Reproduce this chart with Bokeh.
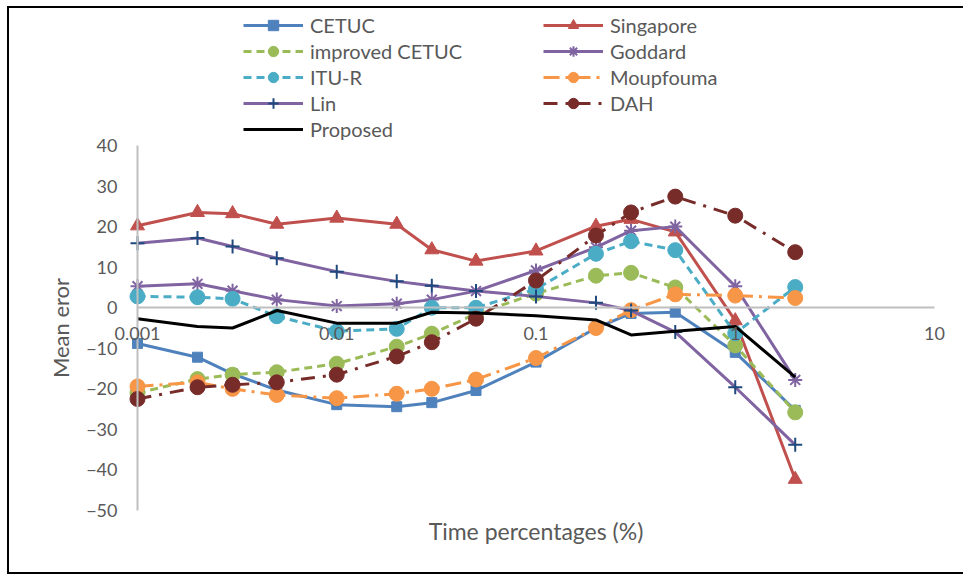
from bokeh.plotting import figure
from bokeh.models import LogAxis, FixedTicker, Range1d, Legend, LegendItem
from bokeh.embed import file_html
from bokeh.resources import INLINE

# ---------------- data ----------------
time_pct = [0.001, 0.002, 0.003, 0.005, 0.01, 0.02, 0.03, 0.05, 0.1, 0.2, 0.3, 0.5, 1, 2]
cetuc = [-8.8, -12.2, -16.3, -20.3, -23.9, -24.4, -23.4, -20.4, -13.4, -5.0, -1.4, -1.1, -11.0, -25.3]
singapore = [20.2, 23.5, 23.2, 20.6, 22.1, 20.6, 14.3, 11.5, 14.0, 20.1, 21.8, 18.7, -3.2, -42.3]
improved_cetuc = [-21.0, -17.6, -16.5, -15.9, -13.8, -9.6, -6.4, -1.5, 3.5, 7.9, 8.6, 5.0, -9.3, -25.8]
goddard = [5.3, 5.9, 4.2, 2.0, 0.4, 1.0, 2.0, 4.1, 9.2, 14.9, 19.0, 20.0, 5.3, -17.8]
itu_r = [2.8, 2.6, 2.2, -2.1, -5.8, -5.2, 0.0, 0.0, 4.6, 13.3, 16.4, 14.2, -6.3, 5.1]
moupfouma = [-19.4, -18.4, -20.0, -21.5, -22.3, -21.2, -20.0, -17.7, -12.4, -5.0, -0.6, 3.3, 3.0, 2.4]
lin = [15.9, 17.2, 15.1, 12.2, 8.9, 6.5, 5.4, 4.1, 2.8, 1.2, -0.7, -6.0, -19.6, -33.8]
dah = [-22.5, -19.6, -19.0, -18.4, -16.5, -12.0, -8.5, -2.7, 6.7, 17.8, 23.5, 27.4, 22.7, 13.7]
proposed = [-2.7, -4.6, -5.0, -0.7, -3.8, -3.8, -1.1, -1.3, -2.0, -3.0, -6.7, -5.8, -4.6, -17.1]

x_ticks = [0.001, 0.01, 0.1, 1, 10]
x_tick_labels = ["0.001", "0.01", "0.1", "1", "10"]
x_axis_min, x_axis_max = 0.001, 10
y_ticks = [-50, -40, -30, -20, -10, 0, 10, 20, 30, 40]
y_axis_min, y_axis_max = -50, 40

series_names = ["CETUC", "Singapore", "improved CETUC", "Goddard", "ITU-R",
                "Moupfouma", "Lin", "DAH", "Proposed"]
series_values = [cetuc, singapore, improved_cetuc, goddard, itu_r,
                 moupfouma, lin, dah, proposed]

# ---------------- styles ----------------
styles = {
    "CETUC": dict(color="#4F81BD", dash="solid", marker="square", msize=10, mcolor="#4F81BD"),
    "Singapore": dict(color="#C0504D", dash="solid", marker="triangle", msize=14, mcolor="#C0504D"),
    "improved CETUC": dict(color="#9BBB59", dash="8 5", marker="circle", msize=15, mcolor="#9BBB59"),
    "Goddard": dict(color="#8064A2", dash="solid", marker="asterisk", msize=14, mcolor="#8064A2"),
    "ITU-R": dict(color="#4BACC6", dash="8 5", marker="circle", msize=15, mcolor="#4BACC6"),
    "Moupfouma": dict(color="#F79646", dash="16 6 3 6", marker="circle", msize=15, mcolor="#F79646"),
    "Lin": dict(color="#8064A2", dash="solid", marker="cross", msize=14, mcolor="#1F497D"),
    "DAH": dict(color="#772C2A", dash="14 8 3 8", marker="circle", msize=15, mcolor="#772C2A"),
    "Proposed": dict(color="#000000", dash="solid", marker=None, msize=0, mcolor="#000000"),
}

FONT = "Lato"
GREY = "#595959"
AXIS_GREY = "#BFBFBF"

# The plotting frame fills the canvas (so nothing drawn inside it is clipped);
# the axes are bounded to the chart's own extent: x 0.001..10, y -50..40.
p = figure(width=956, height=568, output_backend="svg", toolbar_location=None,
           x_axis_type="log", x_axis_location=None,
           x_range=Range1d(0.0002278, 14.31), y_range=Range1d(-66.27, 73.29),
           min_border_left=0, min_border_right=0, min_border_top=2, min_border_bottom=0)
p.margin = (6, 0, 0, 7)
p.styles = {"border-style": "solid none solid solid", "border-width": "2px",
            "border-color": "#000000"}
p.outline_line_color = None
p.xgrid.visible = False
p.ygrid.visible = False
p.background_fill_color = "white"
p.border_fill_color = "white"

# y axis, crossing x at 0.001
yax = p.yaxis[0]
yax.fixed_location = x_axis_min
yax.ticker = FixedTicker(ticks=y_ticks)
yax.bounds = (y_axis_min, y_axis_max)
yax.axis_line_color = AXIS_GREY
yax.axis_line_width = 2
yax.major_tick_line_color = None
yax.minor_tick_line_color = None
yax.major_tick_out = 0
yax.minor_tick_out = 0
yax.major_label_standoff = 20
yax.major_label_text_font = FONT
yax.major_label_text_font_size = "18px"
yax.major_label_text_color = GREY
yax.axis_label = "Mean eror"
yax.axis_label_text_font = FONT
yax.axis_label_text_font_size = "22px"
yax.axis_label_text_font_style = "normal"
yax.axis_label_text_color = GREY
yax.axis_label_standoff = 9

# x axis crossing y at 0
xaxis0 = LogAxis(fixed_location=0, ticker=FixedTicker(ticks=x_ticks),
                 bounds=(x_axis_min, x_axis_max),
                 major_label_overrides={t: l for t, l in zip(x_ticks, x_tick_labels)})
xaxis0.axis_line_color = AXIS_GREY
xaxis0.axis_line_width = 2
xaxis0.major_tick_line_color = None
xaxis0.minor_tick_line_color = None
xaxis0.major_tick_out = 0
xaxis0.minor_tick_out = 0
xaxis0.major_label_standoff = 19
xaxis0.major_label_text_font = FONT
xaxis0.major_label_text_font_size = "18px"
xaxis0.major_label_text_color = GREY
xaxis0.level = "overlay"
p.add_layout(xaxis0, "below")

# axis carrying only the x title, placed at the bottom of the value axis
xtitle = LogAxis(fixed_location=y_axis_min, ticker=FixedTicker(ticks=[]),
                 axis_label="Time percentages (%)", bounds=(x_axis_min, x_axis_max))
xtitle.axis_line_color = None
xtitle.major_tick_line_color = None
xtitle.minor_tick_line_color = None
xtitle.major_tick_out = 0
xtitle.minor_tick_out = 0
xtitle.major_label_standoff = 0
xtitle.major_label_text_font_size = "0px"
xtitle.axis_label_text_font = FONT
xtitle.axis_label_text_font_size = "23px"
xtitle.axis_label_text_font_style = "normal"
xtitle.axis_label_text_color = GREY
xtitle.axis_label_standoff = 6
p.add_layout(xtitle, "below")

items = []
for name, vals in zip(series_names, series_values):
    st = styles[name]
    rs = [p.line(time_pct, vals, line_color=st["color"], line_width=3, line_dash=st["dash"])]
    if st["marker"]:
        if st["marker"] in ("asterisk", "cross"):
            rs.append(p.scatter(time_pct, vals, marker=st["marker"], size=st["msize"],
                                line_color=st["mcolor"], line_width=2, fill_color=None))
        else:
            rs.append(p.scatter(time_pct, vals, marker=st["marker"], size=st["msize"],
                                line_color=st["mcolor"], fill_color=st["mcolor"], line_width=1))
    items.append(LegendItem(label=name, renderers=rs))


def make_legend(its, loc):
    return Legend(items=its, location=loc, orientation="vertical",
                  glyph_width=60, glyph_height=26, label_height=26,
                  spacing=0, label_standoff=7, padding=0, margin=0,
                  label_text_font=FONT, label_text_font_size="20px", label_text_color=GREY,
                  background_fill_alpha=0, border_line_alpha=0)


# legend positions in screen px from the frame's bottom-left corner
p.add_layout(make_legend(items[0::2], (234, 434)), "center")
p.add_layout(make_legend(items[1::2], (534, 460)), "center")

open("out.html", "w").write(file_html(p, INLINE))
